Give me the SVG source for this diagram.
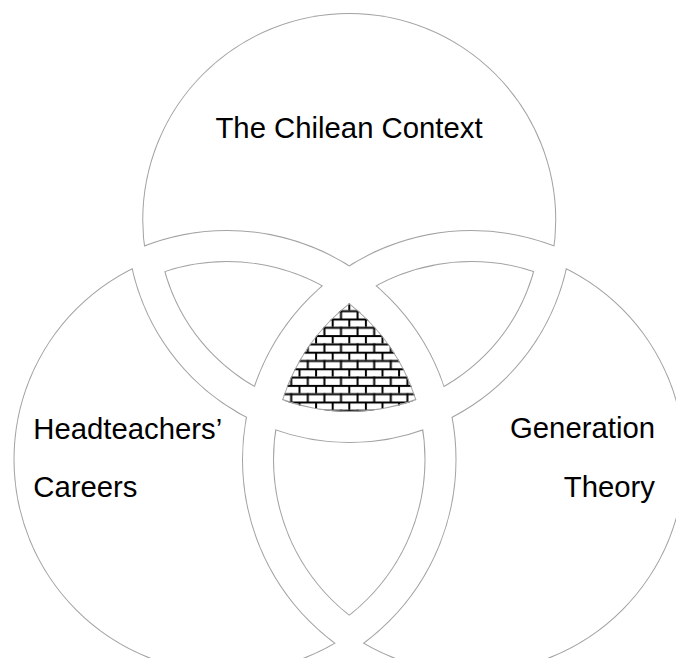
<svg xmlns="http://www.w3.org/2000/svg" xmlns:xlink="http://www.w3.org/1999/xlink" width="676" height="658" viewBox="0 0 676 658">
<style>
.ln{fill:none;stroke:#a2a2a2;stroke-width:2}
.t{font-family:"Liberation Sans",Arial,sans-serif;font-size:29.3px;fill:#000}
</style>
<defs>
<circle id="A" cx="349.25" cy="220" r="207"/>
<circle id="Ap" cx="349.25" cy="220" r="222"/>
<circle id="Am" cx="349.25" cy="220" r="192"/>
<circle id="B" cx="227" cy="459.5" r="213.5"/>
<circle id="Bp" cx="227" cy="459.5" r="228.5"/>
<circle id="Bm" cx="227" cy="459.5" r="198.5"/>
<circle id="C" cx="471.5" cy="459.5" r="213.5"/>
<circle id="Cp" cx="471.5" cy="459.5" r="228.5"/>
<circle id="Cm" cx="471.5" cy="459.5" r="198.5"/>
<clipPath id="cA"><use xlink:href="#A"/></clipPath>
<clipPath id="cB"><use xlink:href="#B"/></clipPath>
<clipPath id="cC"><use xlink:href="#C"/></clipPath>
<clipPath id="cAm"><use xlink:href="#Am"/></clipPath>
<clipPath id="cBm"><use xlink:href="#Bm"/></clipPath>
<clipPath id="cCm"><use xlink:href="#Cm"/></clipPath>
<mask id="mBC" maskUnits="userSpaceOnUse" x="0" y="0" width="676" height="658"><rect width="676" height="658" fill="#fff"/><use xlink:href="#Bp" fill="#000"/><use xlink:href="#Cp" fill="#000"/></mask>
<mask id="mAC" maskUnits="userSpaceOnUse" x="0" y="0" width="676" height="658"><rect width="676" height="658" fill="#fff"/><use xlink:href="#Ap" fill="#000"/><use xlink:href="#Cp" fill="#000"/></mask>
<mask id="mAB" maskUnits="userSpaceOnUse" x="0" y="0" width="676" height="658"><rect width="676" height="658" fill="#fff"/><use xlink:href="#Ap" fill="#000"/><use xlink:href="#Bp" fill="#000"/></mask>
<mask id="mA" maskUnits="userSpaceOnUse" x="0" y="0" width="676" height="658"><rect width="676" height="658" fill="#fff"/><use xlink:href="#Ap" fill="#000"/></mask>
<mask id="mB" maskUnits="userSpaceOnUse" x="0" y="0" width="676" height="658"><rect width="676" height="658" fill="#fff"/><use xlink:href="#Bp" fill="#000"/></mask>
<mask id="mC" maskUnits="userSpaceOnUse" x="0" y="0" width="676" height="658"><rect width="676" height="658" fill="#fff"/><use xlink:href="#Cp" fill="#000"/></mask>
<pattern id="brick" patternUnits="userSpaceOnUse" x="331.7" y="318.5" width="16.6" height="16.6">
<rect width="16.6" height="16.6" fill="#fff"/>
<rect x="0" y="0" width="16.6" height="2" fill="#000"/>
<rect x="0" y="8.3" width="16.6" height="2" fill="#000"/>
<rect x="0" y="0" width="2" height="8.3" fill="#000"/>
<rect x="8.3" y="8.3" width="2" height="8.3" fill="#000"/>
</pattern>
</defs>
<rect width="676" height="658" fill="#fff"/>

<g id="chilean-context">
<g clip-path="url(#cA)"><g mask="url(#mBC)">
<use xlink:href="#A" class="ln"/><use xlink:href="#Bp" class="ln"/><use xlink:href="#Cp" class="ln"/>
</g></g>
<text class="t" x="349" y="138" text-anchor="middle">The Chilean Context</text>
</g>

<g id="headteachers-careers">
<g clip-path="url(#cB)"><g mask="url(#mAC)">
<use xlink:href="#B" class="ln"/><use xlink:href="#Ap" class="ln"/><use xlink:href="#Cp" class="ln"/>
</g></g>
<text class="t" x="33.3" y="438.5">Headteachers’</text>
<text class="t" x="33.3" y="497.2">Careers</text>
</g>

<g id="generation-theory">
<g clip-path="url(#cC)"><g mask="url(#mAB)">
<use xlink:href="#C" class="ln"/><use xlink:href="#Ap" class="ln"/><use xlink:href="#Bp" class="ln"/>
</g></g>
<text class="t" x="655" y="438" text-anchor="end">Generation</text>
<text class="t" x="655" y="497" text-anchor="end">Theory</text>
</g>

<g id="overlap-context-careers">
<g clip-path="url(#cAm)"><g clip-path="url(#cBm)"><g mask="url(#mC)">
<use xlink:href="#Am" class="ln"/><use xlink:href="#Bm" class="ln"/><use xlink:href="#Cp" class="ln"/>
</g></g></g>
</g>

<g id="overlap-context-generation">
<g clip-path="url(#cAm)"><g clip-path="url(#cCm)"><g mask="url(#mB)">
<use xlink:href="#Am" class="ln"/><use xlink:href="#Cm" class="ln"/><use xlink:href="#Bp" class="ln"/>
</g></g></g>
</g>

<g id="overlap-careers-generation">
<g clip-path="url(#cBm)"><g clip-path="url(#cCm)"><g mask="url(#mA)">
<use xlink:href="#Bm" class="ln"/><use xlink:href="#Cm" class="ln"/><use xlink:href="#Ap" class="ln"/>
</g></g></g>
</g>

<g id="centre">
<g clip-path="url(#cAm)"><g clip-path="url(#cBm)"><g clip-path="url(#cCm)">
<rect x="270" y="290" width="160" height="130" fill="url(#brick)"/>
<use xlink:href="#Am" class="ln"/><use xlink:href="#Bm" class="ln"/><use xlink:href="#Cm" class="ln"/>
</g></g></g>
</g>

<g id="connectors"/>
</svg>
